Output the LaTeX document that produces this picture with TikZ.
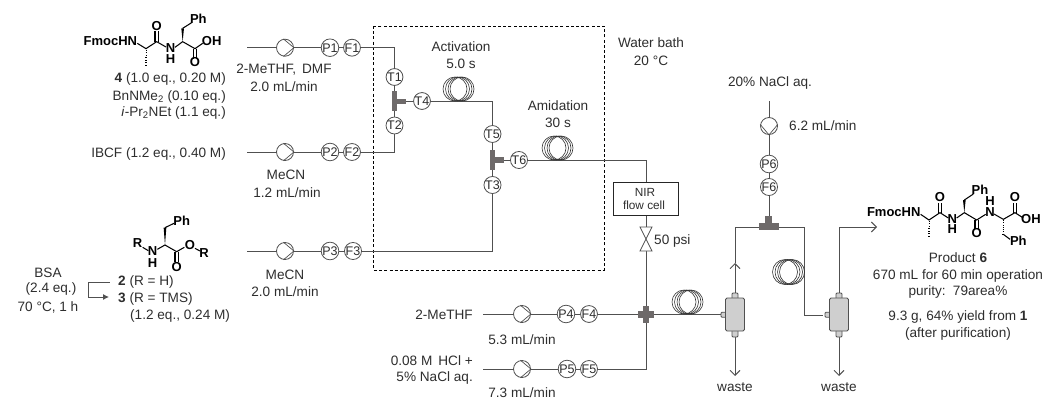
\documentclass[tikz,border=0pt]{standalone}
\usepackage{fontspec}
\setmainfont{Liberation Sans}
\usetikzlibrary{arrows.meta}
\definecolor{pipe}{HTML}{505050}
\definecolor{ink}{HTML}{2E2E2E}
\definecolor{mixc}{HTML}{6E6A6A}
\definecolor{sepc}{HTML}{CFCFCF}
\tikzset{
  lbl/.style={text=ink,inner sep=0pt,font=\fontsize{13.6}{15}\selectfont},
  small/.style={text=ink,inner sep=0pt,font=\fontsize{11.8}{13}\selectfont},
  atom/.style={text=black,inner sep=0pt,font=\fontsize{13}{14}\selectfont\bfseries},
  pipeline/.style={draw=pipe,line width=0.9pt},
  gauge/.style={circle,draw=pipe,fill=white,line width=0.8pt,minimum size=16.5pt,inner sep=0pt,text=ink,font=\fontsize{12.5}{13}\selectfont},
  pumpc/.style={circle,draw=pipe,fill=white,line width=0.8pt,minimum size=17pt,inner sep=0pt},
  mixer/.style={rectangle,fill=mixc,inner sep=0pt},
  sepbody/.style={rectangle,rounded corners=1.5pt,draw=pipe,fill=sepc,line width=0.8pt,inner sep=0pt},
  coilline/.style={draw=black!80,line width=0.6pt},
  bond/.style={draw=black,line width=1.05pt},
  barb/.style={-{Straight Barb[length=5pt,width=10pt]}},
}
\newcommand{\pumpR}[2]{\node[pumpc] (#1) at (#2) {};\draw[pipeline,line width=0.7pt] (#1.100)--(#1.0)--(#1.260);}
\newcommand{\pumpD}[2]{\node[pumpc] (#1) at (#2) {};\draw[pipeline,line width=0.7pt] (#1.170)--(#1.270)--(#1.10);}
\newcommand{\coilH}[2]{\foreach \d in {0,2.5,5,7}{\draw[coilline] (#1+\d,#2) circle[radius=12];}}
\newcommand{\coilV}[2]{\foreach \d in {0,2.5,5,7}{\draw[coilline] (#1+\d,#2) circle[radius=12.5];}}
\newcommand{\hashb}[3]{\foreach \t in {0,...,6}{\draw[bond,line width=0.8pt] ({#1-0.35*\t-0.6},{#2+#3*\t/6}) -- ({#1+0.35*\t+0.6},{#2+#3*\t/6});}}
\begin{document}
\begin{tikzpicture}[x=1pt,y=-1pt]
\useasboundingbox (0,0) rectangle (1046,399);
\fill[white] (0,0) rectangle (1046,399);
% water bath
\draw[black,line width=0.7pt,dash pattern=on 3pt off 2.2pt] (373.5,26) rectangle (604,270);
% coordinates
\coordinate (in1) at (247,47.7);
\coordinate (in2) at (247,152);
\coordinate (in3) at (247,251);
\coordinate (in4) at (483,314);
\coordinate (in5) at (483,369);
\coordinate (in6) at (769,101);
\coordinate (c1) at (394.5,47.7);
\coordinate (c2) at (394.5,152);
\coordinate (c3) at (492.5,251);
\coordinate (c4) at (492.5,101);
\coordinate (c5) at (646,160);
\coordinate (c6) at (646,369);
\coordinate (c7) at (735,227);
\coordinate (c8) at (804,227);
\coordinate (c9) at (804,315);
\coordinate (c10) at (839,227);
\coordinate (vt) at (646,227);
\coordinate (vb) at (646,251);
\coordinate (midup) at (735,263);
\coordinate (w1) at (735,376);
\coordinate (w2) at (839,376);
\coordinate (prod) at (877,227);
% pipes
\draw[pipeline] (in1) -- (285,47.7) -- (c1) -- (394.5,101);
\draw[pipeline] (in2) -- (c2) -- (394.5,101);
\draw[pipeline] (in3) -- (c3) -- (492.5,160);
\draw[pipeline] (401,101) -- (c4) -- (492.5,160);
\draw[pipeline] (498,160) -- (c5) -- (vt);
\draw[pipeline] (vb) -- (646,314);
\draw[pipeline] (in4) -- (722,314);
\draw[pipeline] (in5) -- (c6) -- (646,314);
\draw[pipeline] (in6) -- (769,227);
\draw[pipeline,barb] (735,294) -- (midup);
\draw[pipeline] (midup) -- (c7) -- (c8) -- (c9) -- (823,315);
\draw[pipeline,barb] (735,336) -- (w1);
\draw[pipeline,barb] (839,336) -- (w2);
\draw[pipeline,barb] (839,294) -- (c10) -- (prod);
% coils
\coilH{455}{89}
\coilH{554}{148}
\coilH{684}{302}
\coilV{785}{272}
% pumps
\pumpR{pump1}{285,47.7}
\pumpR{pump2}{285,152}
\pumpR{pump3}{285,251}
\pumpR{pump4}{522,314}
\pumpR{pump5}{522,369}
\pumpD{pump6}{769,126}
% gauges
\node[gauge] (P1) at (330,47.7) {P1};
\node[gauge] (F1) at (352,47.7) {F1};
\node[gauge] (P2) at (330,152) {P2};
\node[gauge] (F2) at (352,152) {F2};
\node[gauge] (P3) at (330,251) {P3};
\node[gauge] (F3) at (353,251) {F3};
\node[gauge] (P4) at (566,314) {P4};
\node[gauge] (F4) at (589,314) {F4};
\node[gauge] (P5) at (567,369) {P5};
\node[gauge] (F5) at (589,369) {F5};
\node[gauge] (P6) at (769,164) {P6};
\node[gauge] (F6) at (769,187) {F6};
\node[gauge] (T1) at (394.5,77) {T1};
\node[gauge] (T2) at (394.5,125.5) {T2};
\node[gauge] (T4) at (422,101) {T4};
\node[gauge] (T5) at (492.5,134) {T5};
\node[gauge] (T3) at (492.5,185) {T3};
\node[gauge] (T6) at (519,160) {T6};
% mixers
\node[mixer,minimum width=5pt,minimum height=20pt] (M1) at (394.5,101) {};
\node[mixer,minimum width=10pt,minimum height=5pt] (M1s) at (401,101) {};
\node[mixer,minimum width=5pt,minimum height=20pt] (M2) at (492.5,160) {};
\node[mixer,minimum width=10pt,minimum height=6pt] (M2s) at (499,160) {};
\node[mixer,minimum width=16.5pt,minimum height=6.5pt] (M3) at (646,314.5) {};
\node[mixer,minimum width=6.5pt,minimum height=17pt] (M3v) at (646,314.5) {};
\node[mixer,minimum width=20pt,minimum height=7pt] (M4) at (768.5,226.5) {};
\node[mixer,minimum width=6.5pt,minimum height=8pt] (M4v) at (768.5,220) {};
% NIR
\node[rectangle,draw=black!85,fill=white,line width=0.8pt,minimum width=65pt,minimum height=33pt,inner sep=0pt] (NIR) at (645.5,198.5) {};
\node[small] (nirA) at (645,192) {NIR};
\node[small] (nirB) at (644,205) {flow cell};
\draw[pipeline,fill=white,line width=0.7pt] (640,227) -- (652,227) -- (640,251) -- (652,251) -- cycle;
% separators
\foreach \n/\x in {S/735,U/839}{
  \node[sepbody,rounded corners=1pt,minimum width=6pt,minimum height=44pt] (\n v) at (\x,315) {};
  \node[sepbody,rounded corners=1pt,minimum width=7pt,minimum height=5pt] (\n h) at (\x-10.5,314.7) {};
  \node[sepbody,minimum width=19pt,minimum height=33pt] (\n) at (\x,314.5) {};
}
% labels
\node[lbl,align=center] (t1) at (284,70) {2-MeTHF,\, DMF};
\node[lbl] (t1b) at (284,87) {2.0 mL/min};
\node[lbl,anchor=east] (t2) at (226,79) {\textbf{4} (1.0 eq., 0.20 M)};
\node[lbl,anchor=east] (t3) at (226,97) {BnNMe\textsubscript{2} (0.10 eq.)};
\node[lbl,anchor=east] (t4) at (226,113) {\textit{i}-Pr\textsubscript{2}NEt (1.1 eq.)};
\node[lbl,anchor=east] (t5) at (226,154) {IBCF (1.2 eq., 0.40 M)};
\node[lbl] (t6) at (286,175) {MeCN};
\node[lbl] (t6b) at (287,193) {1.2 mL/min};
\node[lbl] (t7) at (285,275) {MeCN};
\node[lbl] (t7b) at (285,292) {2.0 mL/min};
\node[lbl] (t8) at (48,273) {BSA};
\node[lbl] (t8b) at (51,289) {(2.4 eq.)};
\node[lbl] (t8c) at (48,307) {70 °C, 1 h};
\node[lbl,anchor=west] (t9) at (118,282) {\textbf{2} (R = H)};
\node[lbl,anchor=west] (t10) at (118,299) {\textbf{3} (R = TMS)};
\node[lbl,anchor=west] (t11) at (130,316) {(1.2 eq., 0.24 M)};
\coordinate (ba) at (109.5,282);
\coordinate (bb) at (88.5,282);
\coordinate (bc) at (88.5,297);
\coordinate (bd) at (109,297);
\draw[pipe,line width=0.9pt,-{Latex[length=6pt,width=6pt]}] (ba) -- (bb) -- (bc) -- (bd);
\node[lbl] (t12) at (461,47) {Activation};
\node[lbl] (t12b) at (461,64) {5.0 s};
\node[lbl] (t13) at (558,106) {Amidation};
\node[lbl] (t13b) at (558,123) {30 s};
\node[lbl] (t14) at (651,43) {Water bath};
\node[lbl] (t14b) at (651,61) {20 °C};
\node[lbl,anchor=west] (t15) at (654,241) {50 psi};
\node[lbl] (t16) at (770,83) {20\% NaCl aq.};
\node[lbl,anchor=west] (t17) at (789,126) {6.2 mL/min};
\node[lbl,anchor=east] (t18) at (473,315) {2-MeTHF};
\node[lbl] (t19) at (522,340) {5.3 mL/min};
\node[lbl,anchor=east] (t20) at (473,361) {0.08 M\, HCl +};
\node[lbl,anchor=east] (t21) at (473,378) {5\% NaCl aq.};
\node[lbl] (t22) at (522,393) {7.3 mL/min};
\node[lbl] (t23) at (735,387) {waste};
\node[lbl] (t24) at (839,387) {waste};
\node[lbl] (t25) at (958,258) {Product \textbf{6}};
\node[lbl] (t26) at (958,276) {670 mL for 60 min operation};
\node[lbl] (t27) at (958,292) {purity:\, 79area\%};
\node[lbl] (t28) at (958,317) {9.3 g, 64\% yield from \textbf{1}};
\node[lbl] (t29) at (958,334) {(after purification)};
% molecule 4
\begin{scope}[shift={(60,0)},x=0.3333pt,y=-0.3333pt]
\draw[bond] (232,130) -- (258,146) -- (290,125) -- (318,141);
\draw[bond] (285,125) -- (285,93) (295,125) -- (295,93);
\draw[bond] (345,142) -- (368,125) -- (405,146) -- (428,130);
\draw[bond] (400,146) -- (400,178) (410,146) -- (410,178);
\draw[bond] (368,85) -- (395,68);
\fill[black] (368,125) -- (364,85) -- (372,85) -- cycle;
\hashb{258}{150}{45}
\node[atom,anchor=east] (a1) at (232,122) {FmocHN};
\node[atom] (a2) at (290,78) {O};
\node[atom] (a3) at (332,144) {N};
\node[atom] (a4) at (332,176) {H};
\node[atom] (a5) at (415,57) {Ph};
\node[atom] (a6) at (455,122) {OH};
\node[atom] (a7) at (405,187) {O};
\end{scope}
% molecule 2/3
\begin{scope}[shift={(0,190)},x=0.3333pt,y=-0.3333pt]
\draw[bond] (428,172) -- (445,182);
\draw[bond] (472,178) -- (495,165) -- (530,185) -- (553,172);
\draw[bond] (525,185) -- (525,215) (535,185) -- (535,215);
\draw[bond] (585,175) -- (600,183);
\draw[bond] (495,113) -- (522,100);
\fill[black] (495,165) -- (491,113) -- (499,113) -- cycle;
\node[atom] (b1) at (413,160) {R};
\node[atom] (b2) at (458,184) {N};
\node[atom] (b3) at (458,218) {H};
\node[atom] (b4) at (545,92) {Ph};
\node[atom] (b5) at (530,230) {O};
\node[atom] (b6) at (570,165) {O};
\node[atom] (b7) at (612,188) {R};
\end{scope}
% molecule 6
\begin{scope}[shift={(830,170)},x=0.3333pt,y=-0.3333pt]
\draw[bond] (272,133) -- (297,150) -- (330,128) -- (355,144);
\draw[bond] (325,128) -- (325,98) (335,128) -- (335,98);
\draw[bond] (380,144) -- (403,128) -- (440,150) -- (467,133);
\draw[bond] (435,150) -- (435,178) (445,150) -- (445,178);
\draw[bond] (403,90) -- (430,72);
\fill[black] (403,128) -- (399,90) -- (407,90) -- cycle;
\draw[bond] (492,132) -- (520,148) -- (555,128) -- (580,144);
\draw[bond] (550,128) -- (550,98) (560,128) -- (560,98);
\draw[bond] (520,193) -- (540,208);
\hashb{297}{154}{45}
\hashb{520}{152}{40}
\node[atom,anchor=east] (d1) at (272,125) {FmocHN};
\node[atom] (d2) at (330,82) {O};
\node[atom] (d3) at (367,146) {N};
\node[atom] (d4) at (367,178) {H};
\node[atom] (d5) at (450,60) {Ph};
\node[atom] (d6) at (440,190) {O};
\node[atom] (d7) at (480,125) {N};
\node[atom] (d8) at (480,93) {H};
\node[atom] (d9) at (555,80) {O};
\node[atom] (d10) at (603,148) {OH};
\node[atom] (d11) at (565,213) {Ph};
\end{scope}
\end{tikzpicture}
\end{document}
